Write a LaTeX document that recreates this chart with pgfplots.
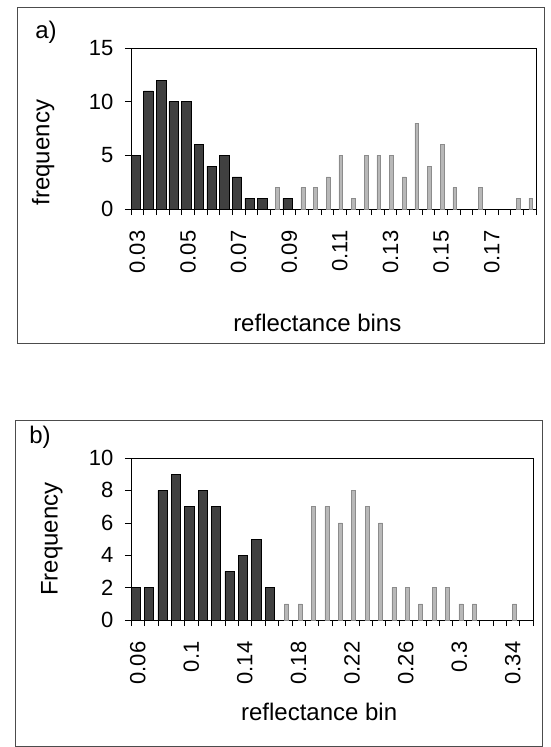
\documentclass[border=0pt]{standalone}
\usepackage{pgfplots}
\pgfplotsset{compat=1.18}
\usepackage{fontspec}
\setmainfont{Liberation Sans}
\definecolor{darkbar}{gray}{0.25}
\definecolor{lightbar}{gray}{0.72}
\begin{document}
\begin{tikzpicture}[font=\fontsize{24}{28}\selectfont]
\useasboundingbox (0pt,0pt) rectangle (550pt,-747pt);
\draw[black!70, line width=1pt] (17pt,-7pt) rectangle (544pt,-343pt);
\draw[black!70, line width=1pt] (15pt,-420pt) rectangle (542pt,-746pt);
\node at (46pt,-32pt) {a)};
\node at (40pt,-437pt) {b)};
\coordinate (OA) at (131pt,-209pt);
\coordinate (OB) at (131pt,-620pt);
\pgfplotsset{
  hist/.style={
    scale only axis,
    anchor=south west,
    ymin=0,
    axis line style={black, line width=1pt},
    tick align=outside,
    xtick pos=bottom, ytick pos=left,
    major tick length=6pt,
    tick style={black, line width=0.6pt},
    xticklabels={},
    xticklabel style={yshift=-18pt, rotate=90, anchor=east, font=\fontsize{22}{26}\selectfont},
    yticklabel style={xshift=-8pt, font=\fontsize{22}{26}\selectfont},
    extra x tick style={major tick length=0pt},
    label style={font=\fontsize{24}{28}\selectfont},
  },
  dk/.style={ybar, bar shift=0pt, fill=darkbar, draw=black, line width=0.6pt},
  lt/.style={ybar, bar shift=0pt, bar width=0.3, fill=lightbar, draw=black!45, line width=0.5pt},
}
% ---------------- a) ----------------
\begin{axis}[hist,
  at={(OA)},
  width=405pt, height=161pt,
  xmin=0, xmax=32, ymax=15,
  xtick={0,1,...,32},
  extra x ticks={0.5,4.5,...,28.5},
  extra x tick labels={0.03,0.05,0.07,0.09,0.11,0.13,0.15,0.17},
  ytick={0,5,10,15}, yticklabels={0,5,10,15},
  ylabel={frequency},
  ylabel style={at={(axis description cs:-0.217,0.35)}, anchor=center},
  xlabel={reflectance bins},
  xlabel style={at={(axis description cs:0.46,-0.71)}, anchor=center},
]
\addplot[dk, bar width=0.75] coordinates {
 (0.375,5) (1.375,11) (2.375,12) (3.375,10) (4.375,10) (5.375,6) (6.375,4)
 (7.375,5) (8.375,3) (9.375,1) (10.375,1) (12.375,1)};
\addplot[lt] coordinates {
 (11.58,2) (13.58,2) (14.58,2) (15.58,3) (16.58,5) (17.58,1) (18.58,5)
 (19.58,5) (20.58,5) (21.58,3) (22.58,8) (23.58,4) (24.58,6) (25.58,2)
 (27.58,2) (30.58,1) (31.58,1)};
\end{axis}
% ---------------- b) ----------------
\begin{axis}[hist,
  at={(OB)},
  width=402pt, height=162pt,
  xmin=0, xmax=30, ymax=10,
  xtick={0,1,...,30},
  extra x ticks={0.5,4.5,...,28.5},
  extra x tick labels={0.06,0.1,0.14,0.18,0.22,0.26,0.3,0.34},
  ytick={0,2,4,6,8,10}, yticklabels={0,2,4,6,8,10},
  ylabel={Frequency},
  ylabel style={at={(axis description cs:-0.197,0.5)}, anchor=center},
  xlabel={reflectance bin},
  xlabel style={at={(axis description cs:0.468,-0.57)}, anchor=center},
]
\addplot[dk, bar width=0.7] coordinates {
 (0.35,2) (1.35,2) (2.35,8) (3.35,9) (4.35,7) (5.35,8) (6.35,7)
 (7.35,3) (8.35,4) (9.35,5) (10.35,2)};
\addplot[lt] coordinates {
 (11.62,1) (12.62,1) (13.62,7) (14.62,7) (15.62,6) (16.62,8) (17.62,7)
 (18.62,6) (19.62,2) (20.62,2) (21.62,1) (22.62,2) (23.62,2) (24.62,1)
 (25.62,1) (28.62,1)};
\end{axis}
\end{tikzpicture}
\end{document}
